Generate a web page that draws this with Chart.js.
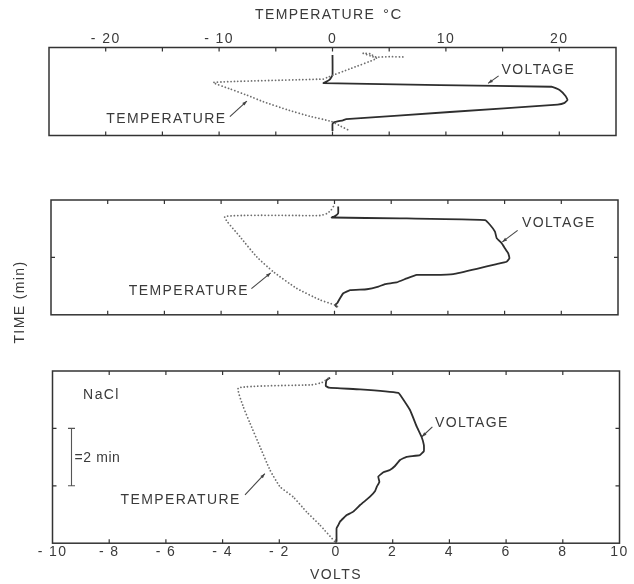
<!DOCTYPE html>
<html>
<head>
<meta charset="utf-8">
<script src="https://cdn.jsdelivr.net/npm/chart.js@4/dist/chart.umd.min.js"></script>
<style>
  html, body { margin: 0; padding: 0; background: #fff; }
  #wrap { position: relative; width: 634px; height: 584px; overflow: hidden; }
  #wrap canvas { position: absolute; left: 0; top: 0; }
</style>
</head>
<body>
<div id="wrap">
  <canvas id="p1" width="634" height="584"></canvas>
  <canvas id="p2" width="634" height="584"></canvas>
  <canvas id="p3" width="634" height="584"></canvas>
</div>
<script>
// Axis ticks
const voltTicks = [-10, -8, -6, -4, -2, 0, 2, 4, 6, 8, 10];   // VOLTS (bottom)
const tempTicks = [-20, -10, 0, 10, 20];                       // TEMPERATURE °C (top)
const timeTicks = [2, 4];                                      // minutes, every 2 min

// Panel 1 — voltage (V) and temperature (°C) against time (min)
const p1VoltTime = [0.26, 0.96, 1.11, 1.20, 1.24, 1.31, 1.37, 1.48, 1.69, 1.83, 1.93, 1.99, 2.25, 2.50, 2.54, 2.61, 2.67, 2.91];
const p1Volts    = [0.00, 0.00, -0.09, -0.23, -0.32, 3.79, 7.73, 8.01, 8.22, 8.29, 8.19, 7.94, 4.14, 0.48, 0.37, 0.05, 0.00, 0.00];
const p1TempTime = [0.33, 0.32, 0.33, 0.22, 0.20, 0.30, 0.38, 0.75, 1.05, 1.10, 1.22, 1.45, 1.67, 1.89, 2.17, 2.40, 2.58, 2.72, 2.88];
const p1Temp     = [6.2, 5.0, 3.8, 3.3, 2.7, 3.4, 3.9, 1.5, -0.5, -0.8, -10.5, -9.0, -7.5, -6.1, -4.0, -2.0, -0.1, 0.6, 1.4];

// Panel 2
const p2VoltTime = [0.23, 0.46, 0.56, 0.61, 0.64, 0.70, 0.87, 1.10, 1.33, 1.51, 1.68, 1.86, 2.03, 2.15, 2.23, 2.40, 2.58, 2.61, 2.61, 2.73, 2.87, 2.93, 3.02, 3.11, 3.14, 3.25, 3.43, 3.59, 3.66, 3.73];
const p2Volts    = [0.13, 0.13, 0.02, -0.10, 2.31, 5.31, 5.49, 5.66, 5.72, 5.90, 6.01, 6.13, 6.17, 6.07, 5.72, 5.02, 4.19, 3.49, 2.90, 2.55, 2.19, 1.78, 1.55, 1.14, 0.55, 0.31, 0.19, 0.10, 0.02, 0.09];
const p2TempTime = [0.23, 0.35, 0.47, 0.54, 0.58, 1.28, 1.98, 2.50, 3.08, 3.48, 3.66, 3.77];
const p2Temp     = [-0.1, -0.3, -0.66, -1.28, -9.66, -8.33, -6.86, -5.40, -3.33, -1.28, 0.04, 0.49];

// Panel 3 — NaCl
const p3VoltTime = [0.23, 0.33, 0.52, 0.58, 0.64, 0.76, 0.87, 1.36, 1.94, 2.30, 2.58, 2.79, 2.93, 2.99, 3.10, 3.31, 3.45, 3.53, 3.68, 3.86, 4.03, 4.18, 4.38, 4.67, 4.90, 5.02, 5.13, 5.25, 5.37, 5.48, 5.95];
const p3Volts    = [-0.21, -0.34, -0.36, -0.25, 0.85, 2.20, 2.29, 2.61, 2.85, 3.02, 3.10, 3.10, 2.96, 2.49, 2.26, 2.08, 1.90, 1.67, 1.49, 1.53, 1.44, 1.38, 1.20, 0.85, 0.61, 0.38, 0.26, 0.14, 0.08, 0.02, 0.02];
const p3TempTime = [0.26, 0.40, 0.48, 0.59, 1.24, 1.82, 2.64, 3.45, 4.03, 4.39, 4.91, 5.37, 5.95];
const p3Temp     = [-0.7, -1.23, -2.12, -8.6, -8.18, -7.58, -6.70, -5.82, -4.94, -3.77, -2.59, -1.41, -0.09];

const FONT = '"Liberation Sans", Arial, sans-serif';
const INK = '#3a3a3a';

function pts(xs, ts) { return xs.map((x, i) => ({ x: x, y: ts[i] })); }

// Frame, inward ticks, labels and arrows for each panel
const panelDecor = {
  id: 'panelDecor',
  afterDraw(chart, args, o) {
    const { ctx, chartArea: a, scales } = chart;
    const X = scales.x, Y = scales.y, XT = scales.xT;
    ctx.save();
    ctx.strokeStyle = '#333';
    ctx.lineWidth = 1.5;
    ctx.strokeRect(a.left, a.top, a.right - a.left, a.bottom - a.top);

    ctx.lineWidth = 1.2;
    ctx.beginPath();
    voltTicks.forEach(v => {
      if (v <= X.min || v >= X.max) return;
      const px = X.getPixelForValue(v);
      ctx.moveTo(px, a.top); ctx.lineTo(px, a.top + 4);
      ctx.moveTo(px, a.bottom); ctx.lineTo(px, a.bottom - 4);
    });
    if (o.timeTicks) {
      timeTicks.forEach(t => {
        if (t >= Y.max - 0.05) return;
        const py = Y.getPixelForValue(t);
        ctx.moveTo(a.left, py); ctx.lineTo(a.left + 4, py);
        ctx.moveTo(a.right, py); ctx.lineTo(a.right - 4, py);
      });
    }
    ctx.stroke();

    ctx.fillStyle = INK;
    ctx.font = '14px ' + FONT;
    ctx.letterSpacing = '1.4px';
    ctx.textBaseline = 'middle';

    if (o.topTicks) {
      ctx.textAlign = 'center';
      tempTicks.forEach(v => ctx.fillText(String(v).replace('-', '- '), XT.getPixelForValue(v), a.top - 8));
    }
    if (o.bottomTicks) {
      ctx.textAlign = 'center';
      voltTicks.forEach(v => ctx.fillText(String(v).replace('-', '- '), X.getPixelForValue(v), a.bottom + 9));
    }

    (o.labels || []).forEach(l => {
      ctx.textAlign = l.align || 'left';
      ctx.fillText(l.text, X.getPixelForValue(l.x), Y.getPixelForValue(l.y));
    });

    ctx.strokeStyle = '#444';
    ctx.lineWidth = 1.1;
    (o.arrows || []).forEach(ar => {
      const x1 = X.getPixelForValue(ar.from[0]), y1 = Y.getPixelForValue(ar.from[1]);
      const x2 = X.getPixelForValue(ar.to[0]), y2 = Y.getPixelForValue(ar.to[1]);
      ctx.beginPath(); ctx.moveTo(x1, y1); ctx.lineTo(x2, y2); ctx.stroke();
      const ang = Math.atan2(y2 - y1, x2 - x1), h = 5;
      ctx.beginPath();
      ctx.moveTo(x2, y2);
      ctx.lineTo(x2 - h * Math.cos(ang - 0.35), y2 - h * Math.sin(ang - 0.35));
      ctx.lineTo(x2 - h * Math.cos(ang + 0.35), y2 - h * Math.sin(ang + 0.35));
      ctx.closePath(); ctx.fillStyle = '#444'; ctx.fill();
    });

    if (o.scaleBar) {
      const sb = o.scaleBar;
      const bx = X.getPixelForValue(sb.x);
      const y1 = Y.getPixelForValue(sb.from), y2 = Y.getPixelForValue(sb.to);
      ctx.strokeStyle = '#555'; ctx.lineWidth = 1.1;
      ctx.beginPath();
      ctx.moveTo(bx, y1); ctx.lineTo(bx, y2);
      ctx.moveTo(bx - 3.5, y1); ctx.lineTo(bx + 3.5, y1);
      ctx.moveTo(bx - 3.5, y2); ctx.lineTo(bx + 3.5, y2);
      ctx.stroke();
      ctx.fillStyle = INK; ctx.textAlign = 'left'; ctx.letterSpacing = '0.6px';
      ctx.fillText(sb.text, bx + 3, Y.getPixelForValue((sb.from + sb.to) / 2) + 1);
      ctx.letterSpacing = '1.4px';
    }

    (o.titles || []).forEach(tt => {
      ctx.save();
      ctx.translate(tt.at[0], tt.at[1]);
      if (tt.rotate) ctx.rotate(tt.rotate);
      ctx.font = (tt.size || 14) + 'px ' + FONT;
      ctx.fillStyle = INK;
      ctx.textAlign = tt.align || 'center';
      ctx.fillText(tt.text, 0, 0);
      ctx.restore();
    });
    ctx.restore();
  }
};

function makePanel(id, p) {
  return new Chart(document.getElementById(id), {
    type: 'scatter',
    data: {
      datasets: [
        {
          label: 'TEMPERATURE', data: pts(p.temp, p.tempTime), xAxisID: 'xT', yAxisID: 'y',
          showLine: true, borderColor: '#6e6e6e', borderWidth: 1.8,
          borderDash: [0.01, 3.4], borderCapStyle: 'round',
          pointRadius: 0, tension: 0.15
        },
        {
          label: 'VOLTAGE', data: pts(p.volts, p.voltTime), xAxisID: 'x', yAxisID: 'y',
          showLine: true, borderColor: '#2e2e2e', borderWidth: 1.8,
          borderJoinStyle: 'round', pointRadius: 0, tension: 0.1
        }
      ]
    },
    options: {
      responsive: false, animation: false, devicePixelRatio: 1,
      layout: { padding: p.pad },
      scales: {
        x:  { type: 'linear', min: -10, max: 10, display: false },
        xT: { type: 'linear', min: -25, max: 25, display: false },
        y:  { type: 'linear', min: 0, max: p.span, reverse: true, display: false }
      },
      plugins: { legend: { display: false }, tooltip: { enabled: false }, panelDecor: p.decor }
    },
    plugins: [panelDecor]
  });
}

makePanel('p1', {
  volts: p1Volts, voltTime: p1VoltTime, temp: p1Temp, tempTime: p1TempTime,
  span: 3.07, pad: { left: 49, right: 18, top: 47.5, bottom: 448.5 },
  decor: {
    topTicks: true,
    labels: [
      { text: 'VOLTAGE', x: 5.96, y: 0.80 },
      { text: 'TEMPERATURE', x: -3.74, y: 2.49, align: 'right' }
    ],
    arrows: [
      { from: [5.86, 0.99], to: [5.49, 1.25] },
      { from: [-3.62, 2.41], to: [-3.02, 1.87] }
    ],
    titles: [
      { text: 'TEMPERATURE', at: [255, 15], align: 'left' },
      { text: '°C', at: [383, 15], align: 'left', size: 15 }
    ]
  }
});

makePanel('p2', {
  volts: p2Volts, voltTime: p2VoltTime, temp: p2Temp, tempTime: p2TempTime,
  span: 4, pad: { left: 51, right: 16, top: 200, bottom: 269.2 },
  decor: {
    timeTicks: true,
    labels: [
      { text: 'VOLTAGE', x: 6.61, y: 0.81 },
      { text: 'TEMPERATURE', x: -3.02, y: 3.19, align: 'right' }
    ],
    arrows: [
      { from: [6.46, 1.06], to: [5.92, 1.46] },
      { from: [-2.93, 3.09], to: [-2.25, 2.54] }
    ],
    titles: [
      { text: 'TIME (min)', at: [20, 302], rotate: -Math.PI / 2 }
    ]
  }
});

makePanel('p3', {
  volts: p3Volts, voltTime: p3VoltTime, temp: p3Temp, tempTime: p3TempTime,
  span: 6, pad: { left: 52.5, right: 14.5, top: 371, bottom: 40.8 },
  decor: {
    timeTicks: true,
    bottomTicks: true,
    labels: [
      { text: 'NaCl', x: -8.92, y: 0.84 },
      { text: 'VOLTAGE', x: 3.49, y: 1.80 },
      { text: 'TEMPERATURE', x: -3.36, y: 4.49, align: 'right' }
    ],
    arrows: [
      { from: [3.40, 1.95], to: [3.03, 2.29] },
      { from: [-3.21, 4.32], to: [-2.51, 3.58] }
    ],
    scaleBar: { x: -9.33, from: 2, to: 4, text: '=2 min' },
    titles: [
      { text: 'VOLTS', at: [336, 575] }
    ]
  }
});
</script>
</body>
</html>
